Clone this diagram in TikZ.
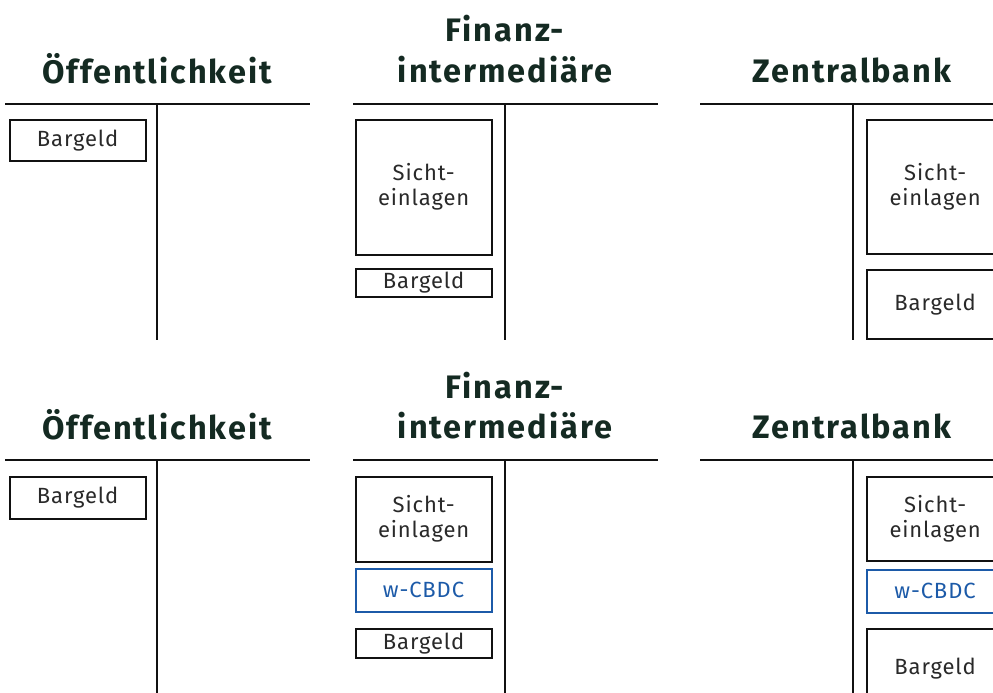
\documentclass[tikz,border=0pt]{standalone}
\usepackage{fontspec}
\setmainfont{Fira Sans}
\newfontfamily\titlefont[LetterSpace=6]{Fira Sans}
\newfontfamily\bodyfont[LetterSpace=4]{Fira Sans}
\definecolor{titlec}{HTML}{142A22}
\definecolor{cbdc}{HTML}{1C5AA8}
\definecolor{linec}{HTML}{111111}
\begin{document}
\begin{tikzpicture}[x=1pt,y=-1pt,
  title/.style={font=\titlefont\fontsize{32.5}{38}\selectfont\bfseries, text=titlec, anchor=base, inner sep=0pt},
  tline/.style={line width=2.6pt, draw=linec},
  box/.style={draw=linec, line width=2.3pt, anchor=north west, inner sep=0pt, align=center,
    font=\bodyfont\fontsize{22}{25}\selectfont, text=linec!90!white},
  bluebox/.style={box, draw=cbdc, line width=2pt, text=cbdc}]
\useasboundingbox (0,0) rectangle (993,693);
\clip (0,0) rectangle (993,693);
% ---------- top row ----------
\node[title] (t1) at (157,83) {Öffentlichkeit};
\node[title] (t2a) at (505,42) {Finanz-};
\node[title] (t2b) at (505,82) {intermediäre};
\node[title] (t3) at (852,82) {Zentralbank};
\coordinate (h1l) at (5,104); \coordinate (h1r) at (310,104);
\coordinate (v1t) at (157,104); \coordinate (v1b) at (157,340);
\coordinate (h2l) at (353,104); \coordinate (h2r) at (658,104);
\coordinate (v2t) at (505,104); \coordinate (v2b) at (505,340);
\coordinate (h3l) at (700,104); \coordinate (h3r) at (1005,104);
\coordinate (v3t) at (853,104); \coordinate (v3b) at (853,340);
\draw[tline] (h1l) -- (h1r); \draw[tline] (v1t) -- (v1b);
\draw[tline] (h2l) -- (h2r); \draw[tline] (v2t) -- (v2b);
\draw[tline] (h3l) -- (h3r); \draw[tline] (v3t) -- (v3b);
\node[box, minimum width=136, minimum height=41] (a1) at (8.5,118.5) {Bargeld};
\node[box, minimum width=136, minimum height=135] (b1) at (354.5,118.5) {Sicht-\\einlagen};
\node[box, minimum width=136, minimum height=28] (b2) at (354.5,267.5) {Bargeld};
\node[box, minimum width=137, minimum height=134] (c1) at (865.5,118.5) {Sicht-\\einlagen};
\node[box, minimum width=137, minimum height=69] (c2) at (865.5,268.5) {Bargeld};
% ---------- bottom row ----------
\node[title] (u1) at (157,439) {Öffentlichkeit};
\node[title] (u2a) at (505,398) {Finanz-};
\node[title] (u2b) at (505,438) {intermediäre};
\node[title] (u3) at (852,438) {Zentralbank};
\coordinate (k1l) at (5,460); \coordinate (k1r) at (310,460);
\coordinate (w1t) at (157,460); \coordinate (w1b) at (157,693);
\coordinate (k2l) at (353,460); \coordinate (k2r) at (658,460);
\coordinate (w2t) at (505,460); \coordinate (w2b) at (505,693);
\coordinate (k3l) at (700,460); \coordinate (k3r) at (1005,460);
\coordinate (w3t) at (853,460); \coordinate (w3b) at (853,693);
\draw[tline] (k1l) -- (k1r); \draw[tline] (w1t) -- (w1b);
\draw[tline] (k2l) -- (k2r); \draw[tline] (w2t) -- (w2b);
\draw[tline] (k3l) -- (k3r); \draw[tline] (w3t) -- (w3b);
\node[box, minimum width=136, minimum height=42] (d1) at (8.5,475.5) {Bargeld};
\node[box, minimum width=136, minimum height=85] (e1) at (354.5,475.5) {Sicht-\\einlagen};
\node[bluebox, minimum width=136, minimum height=43] (e2) at (354.5,567.5) {w-CBDC};
\node[box, minimum width=136, minimum height=29] (e3) at (354.5,627.5) {Bargeld};
\node[box, minimum width=137, minimum height=84] (f1) at (865.5,475.5) {Sicht-\\einlagen};
\node[bluebox, minimum width=137, minimum height=43] (f2) at (865.5,568.5) {w-CBDC};
\node[box, minimum width=137, minimum height=80] (f3) at (865.5,627.5) {Bargeld};
\end{tikzpicture}
\end{document}
